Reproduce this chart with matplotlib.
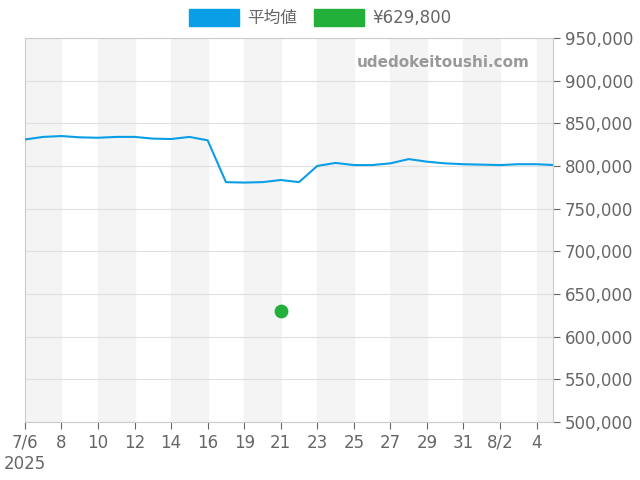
import matplotlib
matplotlib.use("Agg")
import matplotlib.pyplot as plt
from matplotlib.patches import Patch

plt.rcParams['font.family'] = ['DejaVu Sans', 'Noto Sans CJK JP']

tick_labels = ["7/6","8","10","12","14","16","19","21","23","25","27","29","31","8/2","4"]
tick_idx = [0,2,4,6,8,10,12,14,16,18,20,22,24,26,28]
avg = [831000,834000,835000,833500,833000,834000,834000,832000,831500,834000,830000,
       781000,780500,781000,783500,781000,800000,803500,801000,801000,803000,808000,
       805000,803000,802000,801500,801000,802000,802000,801000]
dot_idx = 14
dot_val = 629800

fig = plt.figure(figsize=(6.4,4.8), dpi=100)
ax = fig.add_axes([0.039,0.121,0.825,0.8])
for s in range(0,30,4):
    ax.axvspan(s, s+2, color='#f4f4f4', zorder=0)
ax.plot(range(len(avg)), avg, color='#0a9ee6', lw=1.5, zorder=3)
ax.scatter([dot_idx],[dot_val], color='#22b03a', s=80, zorder=4)
ax.set_xlim(0, 28.9)
ax.set_ylim(500000, 950000)
ax.set_yticks(range(500000, 950001, 50000))
ax.set_yticklabels([f"{v:,}" for v in range(500000, 950001, 50000)])
ax.yaxis.tick_right()
ax.set_xticks(tick_idx)
ax.set_xticklabels(tick_labels)
ax.tick_params(colors='#666666', labelsize=12, length=5)
ax.grid(axis='y', color='#e0e0e0', lw=0.8)
for sp in ax.spines.values():
    sp.set_color('#cccccc')
ax.text(0.0, -0.085, "2025", transform=ax.transAxes, color='#666666', fontsize=12, ha='center', va='top')
ax.text(0.955, 0.935, "udedokeitoushi.com", transform=ax.transAxes, color='#999999',
        fontsize=11, fontweight='bold', ha='right', va='center')
handles = [Patch(color='#0a9ee6', label='平均値'), Patch(color='#22b03a', label='¥629,800')]
fig.legend(handles=handles, loc='upper center', bbox_to_anchor=(0.5, 1.012), ncol=2,
           frameon=False, fontsize=12, handlelength=3, handleheight=1.2, columnspacing=1.0,
           handletextpad=0.5, labelcolor='#666666')
fig.savefig("out.png")
